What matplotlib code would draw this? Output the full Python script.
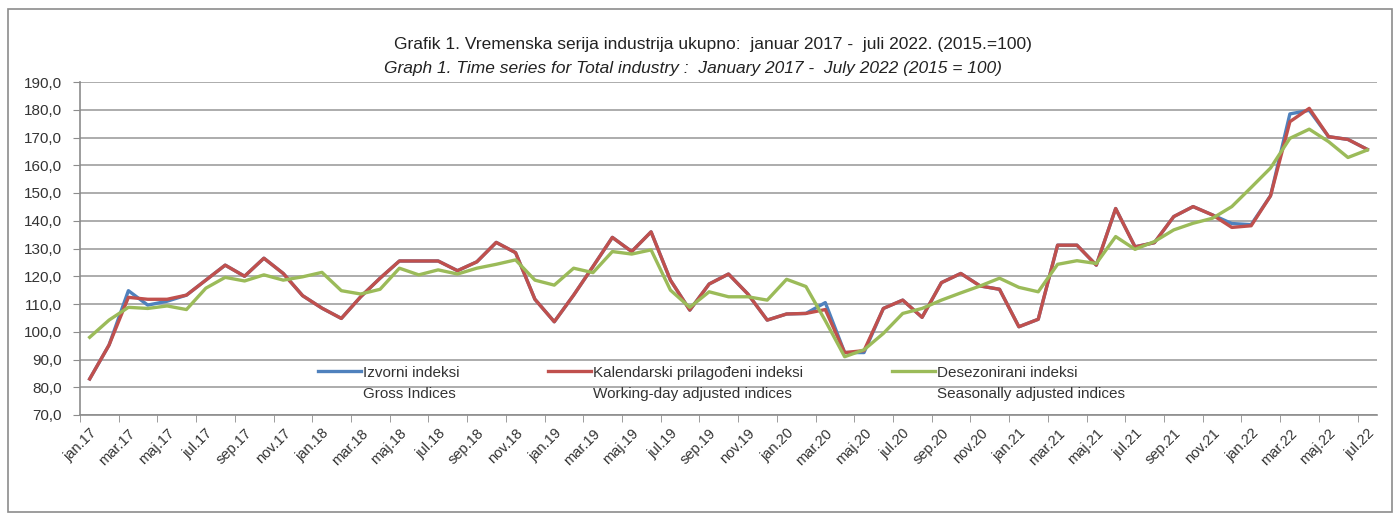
import matplotlib
matplotlib.use("Agg")
import matplotlib.pyplot as plt
from matplotlib.patches import Rectangle
from matplotlib.ticker import FixedLocator, FuncFormatter

plt.rcParams['font.family'] = ['Liberation Sans', 'DejaVu Sans']

# ---- data -------------------------------------------------------------
tick_labels = ['jan.17', 'mar.17', 'maj.17', 'jul.17', 'sep.17', 'nov.17',
               'jan.18', 'mar.18', 'maj.18', 'jul.18', 'sep.18', 'nov.18',
               'jan.19', 'mar.19', 'maj.19', 'jul.19', 'sep.19', 'nov.19',
               'jan.20', 'mar.20', 'maj.20', 'jul.20', 'sep.20', 'nov.20',
               'jan.21', 'mar.21', 'maj.21', 'jul.21', 'sep.21', 'nov.21',
               'jan.22', 'mar.22', 'maj.22', 'jul.22']

working_day = [83.0, 95.2, 112.4, 111.7, 111.7, 113.2, 118.6, 124.0, 120.0, 126.5, 121.0, 113.0,
               108.5, 104.8, 112.6, 119.3, 125.5, 125.5, 125.5, 122.0, 125.2, 132.2, 128.5, 111.7,
               103.6, 113.2, 123.5, 134.0, 128.9, 136.0, 118.6, 107.8, 117.2, 120.8, 113.6, 104.2,
               106.4, 106.6, 108.0, 92.5, 93.2, 108.4, 111.4, 105.2, 117.7, 121.0, 116.5, 115.3,
               101.8, 104.5, 131.2, 131.2, 124.0, 144.4, 130.6, 132.1, 141.5, 145.1, 142.1, 137.6,
               138.2, 149.0, 175.7, 180.5, 170.3, 169.3, 165.7]

gross = [83.0, 95.2, 114.8, 109.6, 111.0, 113.2, 118.6, 124.0, 120.0, 126.5, 121.0, 113.0,
         108.5, 104.8, 112.6, 119.3, 125.5, 125.5, 125.5, 122.0, 125.2, 132.2, 128.5, 111.7,
         103.6, 113.2, 123.5, 134.0, 128.9, 136.0, 118.6, 107.8, 117.2, 120.8, 113.6, 104.2,
         106.4, 106.6, 110.5, 92.5, 92.5, 108.4, 111.4, 105.2, 117.7, 121.0, 116.5, 115.3,
         101.8, 104.5, 131.2, 131.2, 124.0, 144.4, 130.6, 132.1, 141.5, 145.1, 142.1, 139.0,
         138.6, 149.0, 178.5, 179.8, 170.3, 169.3, 165.7]

seasonal = [98.0, 104.2, 108.8, 108.4, 109.3, 108.0, 115.7, 119.6, 118.3, 120.5, 118.6, 119.8,
            121.4, 114.8, 113.6, 115.3, 122.9, 120.5, 122.3, 120.8, 122.9, 124.3, 125.9, 118.6,
            116.8, 122.9, 121.3, 128.9, 128.0, 129.5, 115.0, 108.8, 114.4, 112.6, 112.6, 111.4,
            118.9, 116.3, 104.0, 91.0, 93.5, 99.4, 106.6, 108.4, 111.4, 114.0, 116.5, 119.3,
            116.0, 114.4, 124.3, 125.6, 124.6, 134.3, 129.7, 132.5, 136.7, 139.1, 140.9, 145.1,
            152.0, 159.0, 169.7, 173.0, 168.5, 162.8, 165.5]

series_labels = ['Izvorni indeksi', 'Kalendarski prilagođeni indeksi', 'Desezonirani indeksi']
series_labels_en = ['Gross Indices', 'Working-day adjusted indices', 'Seasonally adjusted indices']
y_ticks = [70, 80, 90, 100, 110, 120, 130, 140, 150, 160, 170, 180, 190]

title_sr = 'Grafik 1. Vremenska serija industrija ukupno:  januar 2017 -  juli 2022. (2015.=100)'
title_en = 'Graph 1. Time series for Total industry :  January 2017 -  July 2022 (2015 = 100)'

# ---- figure -----------------------------------------------------------
W, H = 1398, 517
fig = plt.figure(figsize=(W / 100, H / 100), dpi=100)
fig.patch.set_facecolor('white')

# outer frame
fig.patches.append(Rectangle((8 / W, 5 / H), (1392 - 8) / W, (508 - 5) / H,
                             transform=fig.transFigure, fill=False,
                             edgecolor='#8c8c8c', linewidth=1.2))

ax = fig.add_axes([80 / W, 1 - 415 / H, (1377 - 80) / W, (415 - 82) / H])
x = list(range(len(working_day)))

colors = ['#4F81BD', '#C0504D', '#9BBB59']
l1, = ax.plot(x, gross, color=colors[0], lw=2.4, solid_joinstyle='round', zorder=3)
l2, = ax.plot(x, working_day, color=colors[1], lw=2.4, solid_joinstyle='round', zorder=4)
l3, = ax.plot(x, seasonal, color=colors[2], lw=2.4, solid_joinstyle='round', zorder=5)

ax.set_xlim(-0.5, len(x) - 0.5)
ax.set_ylim(70, 190)
ax.set_yticks(y_ticks)
ax.yaxis.set_major_formatter(FuncFormatter(lambda v, p: f'{v:.1f}'.replace('.', ',')))
ax.grid(axis='y', color='#a6a6a6', lw=1.3, zorder=0)
ax.set_axisbelow(True)

ax.set_xticks(list(range(0, len(x), 2)))
ax.set_xticklabels(tick_labels, rotation=45, ha='right', va='top', rotation_mode='anchor')
ax.xaxis.set_minor_locator(FixedLocator([i - 0.5 for i in range(0, len(x), 2)]))
ax.tick_params(axis='x', which='major', length=0, pad=8, labelsize=10.5, labelcolor='#333333')
ax.tick_params(axis='x', which='minor', length=5, direction='out', color='#8c8c8c')
ax.tick_params(axis='y', length=5, direction='out', color='#8c8c8c', labelsize=11,
               labelcolor='#333333', pad=8)

for s in ['top', 'right']:
    ax.spines[s].set_visible(False)
ax.spines['left'].set_color('#8c8c8c')
ax.spines['bottom'].set_color('#8c8c8c')
ax.spines['left'].set_linewidth(1.2)
ax.spines['bottom'].set_linewidth(1.2)

# titles
fig.text(713 / W, 1 - 45 / H, title_sr, ha='center', va='center', fontsize=12.5, color='#222222')
fig.text(693 / W, 1 - 68 / H, title_en, ha='center', va='center', fontsize=12.5,
         style='italic', color='#222222')

# legend
labels = [a + '\n' + b for a, b in zip(series_labels, series_labels_en)]
leg = ax.legend([l1, l2, l3], labels, ncol=3, frameon=False,
                loc='upper left', bbox_to_anchor=(318 / W, 1 - 366 / H),
                bbox_transform=fig.transFigure, fontsize=11, handlelength=2.8,
                handletextpad=0.15, columnspacing=5.8, borderpad=0, borderaxespad=0,
                labelspacing=0.2)
for t in leg.get_texts():
    t.set_color('#333333')
    t.set_linespacing(1.65)
try:
    for vp in leg._legend_handle_box.get_children():
        for hp in vp.get_children():
            hp.align = 'top'
except Exception:
    pass

fig.savefig('out.png', dpi=100, facecolor='white')
